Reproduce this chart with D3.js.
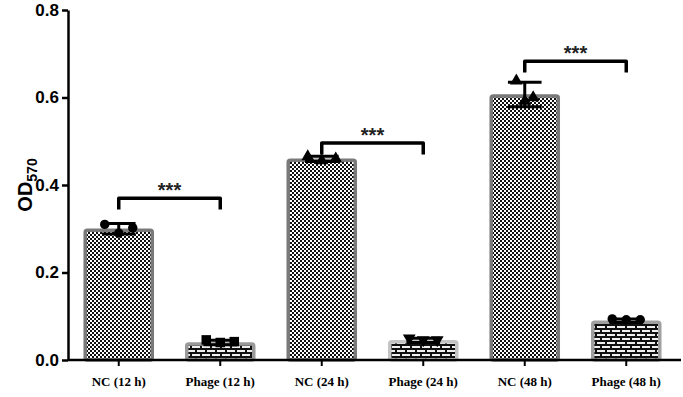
<!DOCTYPE html>
<html>
<head>
<meta charset="utf-8">
<script src="https://cdn.jsdelivr.net/npm/d3@7"></script>
<style>
  body { margin: 0; background: #fff; }
  svg { display: block; }
</style>
</head>
<body>
<div id="chart"></div>
<script>
// data
var groups = ["NC (12 h)", "Phage (12 h)", "NC (24 h)", "Phage (24 h)", "NC (48 h)", "Phage (48 h)"];
var means = [0.300, 0.040, 0.460, 0.045, 0.607, 0.090];
var errs = [0.012, 0.005, 0.006, 0.005, 0.028, 0.004];
var replicates = [
  [0.310, 0.290, 0.302],
  [0.046, 0.040, 0.042],
  [0.465, 0.456, 0.460],
  [0.050, 0.046, 0.046],
  [0.638, 0.592, 0.600],
  [0.094, 0.092, 0.092]
];
var yTicks = [0.0, 0.2, 0.4, 0.6, 0.8];
// significance brackets: [left group, right group, bracket level]
var brackets = [[0, 1, 0.370], [2, 3, 0.496], [4, 5, 0.683]];
var sigLabels = ["***", "***", "***"];

var width = 683, height = 397;
var margin = {top: 10, right: 6, bottom: 37, left: 68};

var svg = d3.select("#chart").append("svg")
  .attr("width", width)
  .attr("height", height);

var defs = svg.append("defs");

// fine checkerboard for the NC bars
var checker = defs.append("pattern")
  .attr("id", "checker")
  .attr("patternUnits", "userSpaceOnUse")
  .attr("width", 4).attr("height", 4);
checker.append("rect").attr("width", 4).attr("height", 4).attr("fill", "#fff");
checker.append("rect").attr("width", 2).attr("height", 2).attr("fill", "#111");
checker.append("rect").attr("x", 2).attr("y", 2).attr("width", 2).attr("height", 2).attr("fill", "#111");

// brick pattern for the phage bars
var brick = defs.append("pattern")
  .attr("id", "brick")
  .attr("patternUnits", "userSpaceOnUse")
  .attr("width", 10).attr("height", 8);
brick.append("rect").attr("width", 10).attr("height", 8).attr("fill", "#f0f0f0");
brick.append("rect").attr("y", 0).attr("width", 10).attr("height", 2).attr("fill", "#111");
brick.append("rect").attr("y", 4).attr("width", 10).attr("height", 2).attr("fill", "#111");
brick.append("rect").attr("x", 0).attr("y", 0).attr("width", 2).attr("height", 4).attr("fill", "#111");
brick.append("rect").attr("x", 5).attr("y", 4).attr("width", 2).attr("height", 4).attr("fill", "#111");

var fills = ["url(#checker)", "url(#brick)", "url(#checker)", "url(#brick)", "url(#checker)", "url(#brick)"];
var borders = ["#7a7a7a", "#9a9a9a", "#7a7a7a", "#c4c4c4", "#7a7a7a", "#a0a0a0"];
var symbols = [d3.symbolCircle, d3.symbolSquare, d3.symbolTriangle, d3.symbolTriangle, d3.symbolTriangle, d3.symbolCircle];

var x = d3.scaleBand()
  .domain(groups)
  .range([margin.left, width - margin.right])
  .paddingInner(0.31)
  .paddingOuter(0.155);

var y = d3.scaleLinear()
  .domain([0, 0.8])
  .range([height - margin.bottom, margin.top]);

// bars
svg.append("g").selectAll("rect")
  .data(means)
  .enter().append("rect")
    .attr("x", function(d, i){ return x(groups[i]) + 1.5; })
    .attr("y", function(d){ return y(d) + 1.5; })
    .attr("width", x.bandwidth() - 3)
    .attr("height", function(d){ return y(0) - y(d) - 1.5; })
    .attr("rx", 2)
    .attr("fill", function(d, i){ return fills[i]; })
    .attr("stroke", function(d, i){ return borders[i]; })
    .attr("stroke-width", 3.5);

// error bars
var capHalf = x.bandwidth() * 0.24;
var err = svg.append("g")
  .attr("stroke", "#000")
  .attr("stroke-width", 3);
means.forEach(function(m, i){
  var cx = x(groups[i]) + x.bandwidth() / 2;
  err.append("line")
    .attr("x1", cx).attr("x2", cx)
    .attr("y1", y(m - errs[i])).attr("y2", y(m + errs[i]));
  [m - errs[i], m + errs[i]].forEach(function(v){
    err.append("line")
      .attr("x1", cx - capHalf).attr("x2", cx + capHalf)
      .attr("y1", y(v)).attr("y2", y(v));
  });
});

// replicate points
var offsets = [-0.2, 0, 0.2];
replicates.forEach(function(pts, i){
  var cx = x(groups[i]) + x.bandwidth() / 2;
  var spread = (i === 4) ? 0.6 : 1;
  var sym = d3.symbol().type(symbols[i]).size(symbols[i] === d3.symbolSquare ? 90 : 70);
  svg.append("g").selectAll("path")
    .data(pts)
    .enter().append("path")
      .attr("d", sym)
      .attr("fill", "#000")
      .attr("transform", function(d, k){
        var rot = (i === 3) ? " rotate(180)" : "";
        return "translate(" + (cx + offsets[k] * spread * x.bandwidth()) + "," + y(d) + ")" + rot;
      });
});

// significance brackets
var legLen = 0.026;
brackets.forEach(function(b, k){
  var x1 = x(groups[b[0]]) + x.bandwidth() / 2;
  var x2 = x(groups[b[1]]) + x.bandwidth() / 2;
  var path = d3.path();
  path.moveTo(x1, y(b[2] - legLen));
  path.lineTo(x1, y(b[2]));
  path.lineTo(x2, y(b[2]));
  path.lineTo(x2, y(b[2] - legLen));
  svg.append("path")
    .attr("d", path.toString())
    .attr("fill", "none")
    .attr("stroke", "#000")
    .attr("stroke-width", 3.5)
    .attr("stroke-linejoin", "round");
  svg.append("text")
    .attr("x", (x1 + x2) / 2)
    .attr("y", y(b[2]) - 1)
    .attr("text-anchor", "middle")
    .style("font-family", "Liberation Sans, Arial, sans-serif")
    .style("font-weight", "bold")
    .style("font-size", "20px")
    .style("fill", "#222")
    .text(sigLabels[k]);
});

// y axis
var yAxis = d3.axisLeft(y)
  .tickValues(yTicks)
  .tickFormat(d3.format(".1f"))
  .tickSize(6)
  .tickSizeOuter(0);

var yGuide = svg.append("g")
  .attr("transform", "translate(" + margin.left + ",0)")
  .call(yAxis);
yGuide.selectAll("path, line")
  .attr("stroke", "#000")
  .attr("stroke-width", 2.5);
yGuide.selectAll("text")
  .attr("x", -9)
  .style("font-family", "Liberation Sans, Arial, sans-serif")
  .style("font-weight", "bold")
  .style("font-size", "17px")
  .style("fill", "#000");

// x axis
var xAxis = d3.axisBottom(x)
  .tickSize(6)
  .tickSizeOuter(0);

var xGuide = svg.append("g")
  .attr("transform", "translate(0," + y(0) + ")")
  .call(xAxis);
xGuide.select("path")
  .attr("d", "M" + margin.left + ",0H" + (width - 2))
  .attr("stroke", "#000")
  .attr("stroke-width", 2.5);
xGuide.selectAll("line")
  .attr("stroke", "#000")
  .attr("stroke-width", 2);
xGuide.selectAll("text")
  .attr("y", 17)
  .style("font-family", "Liberation Serif, Times New Roman, serif")
  .style("font-weight", "bold")
  .style("font-size", "13px")
  .style("fill", "#000");

// y axis title
var yTitle = svg.append("text")
  .attr("transform", "translate(32," + y(0.4) + ") rotate(-90)")
  .attr("text-anchor", "middle")
  .style("font-family", "Liberation Sans, Arial, sans-serif")
  .style("font-weight", "bold")
  .style("font-size", "20px")
  .style("fill", "#000");
yTitle.append("tspan").text("OD");
yTitle.append("tspan")
  .attr("dy", 5)
  .style("font-size", "14px")
  .text("570");
</script>
</body>
</html>
